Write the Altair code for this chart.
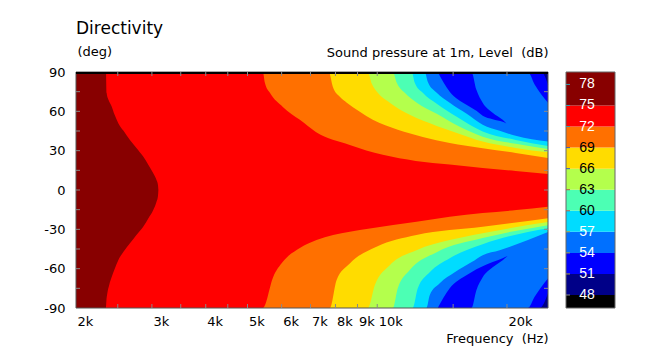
import altair as alt
import pandas as pd

FONT = "DejaVu Sans"
CBAR_FONT = "Liberation Sans"
TEXT = "#000000"

# ---------------- axes ----------------
F_MIN, F_MAX = 2000, 24900
X_LABEL_VALUES = [2000, 3000, 4000, 5000, 6000, 7000, 8000, 9000, 10000, 20000]
X_TICK_VALUES = [2500, 3000, 3500, 4000, 4500, 5000, 6000, 7000, 8000, 9000, 10000, 15000, 20000]
Y_LABEL_VALUES = [-90, -60, -30, 0, 30, 60, 90]
Y_TICK_VALUES = [-75, -60, -45, -30, -15, 0, 15, 30, 45, 60, 75]

# ---------------- colour scale (dB) ----------------
LEVELS = [48, 51, 54, 57, 60, 63, 66, 69, 72, 75]
BAND_COLORS = ["#000000", "#000088", "#0000ff", "#0070ff", "#00dcff", "#4cffb4",
               "#b4ff4c", "#ffdc00", "#ff7000", "#ff0000", "#880000"]
CBAR_MIN, CBAR_MAX = 46.15, 79.77
CBAR_LABELS = [48, 51, 54, 57, 60, 63, 66, 69, 72, 75, 78]
CBAR_LABEL_COLORS = ["white", "white", "white", "white", "black", "black",
                     "black", "black", "white", "white", "white"]
CBAR_TICK_COLORS = ["#888888", "#a89a3a", "#a89a3a", "#a89a3a", "#b05a4a", "#b05a4a",
                    "#3a5ab8", "#3a5ab8", "#3a9aaa", "#3a9aaa", "#3a9aaa"]

# ---------------- contour boundaries (frequency Hz, angle deg) ----------------
L51_UP_F = [2000, 24028, 24900]
L51_UP_A = [90, 90, 80.5]
L51_LO_F = [2000, 23812, 24900]
L51_LO_A = [-90, -90, -78.7]

L54_UP_F = [2000, 22370, 23184, 24028, 24900]
L54_UP_A = [90, 90, 80.5, 72.8, 66.5]
L54_LO_F = [2000, 22370, 23184, 24028, 24900]
L54_LO_A = [-90, -90, -81.5, -73.9, -67.5]

TONGUE_UP_F = [13815, 14728, 16103, 16537, 16984, 17565, 18527, 19544, 19936]
TONGUE_UP_OUT = [90, 90, 90, 90, 76.4, 66.5, 58.9, 53.5, 50.8]
TONGUE_UP_IN = [90, 74.9, 65, 62.7, 60.4, 56.6, 53.9, 52, 50.8]
TONGUE_LO_F = [13815, 14728, 16103, 16537, 16984, 17565, 18527, 19544, 20075]
TONGUE_LO_OUT = [-90, -90, -90, -90, -76.4, -66.5, -58.9, -53.5, -50.4]
TONGUE_LO_IN = [-90, -74.9, -65, -62.7, -60.4, -58.1, -55, -52, -50.4]

L57_UP_F = [2000, 12890, 13099, 13741, 14728, 16127, 17565, 19233, 20950, 24900]
L57_UP_A = [90, 90, 82.5, 74.1, 66.6, 58.1, 49.7, 45.1, 41.3, 36.9]
L57_LO_F = [2000, 13008, 13237, 13964, 15127, 16564, 17565, 19233, 24900]
L57_LO_A = [-90, -90, -80.3, -71.1, -62.7, -55, -49.7, -45.9, -32.1]

L60_UP_F = [2000, 12026, 12220, 12753, 13741, 15288, 17565, 20950, 24900]
L60_UP_A = [90, 90, 81.8, 74.1, 65.7, 55.8, 44.6, 38.2, 33.6]
L60_LO_F = [2000, 12090, 12418, 13237, 14728, 17565, 24900]
L60_LO_A = [-90, -90, -74.9, -62.7, -52, -41.3, -29.1]

L63_UP_F = [2000, 10866, 11100, 11584, 12351, 13741, 15535, 17565, 20950, 24900]
L63_UP_A = [90, 90, 81.8, 74.1, 66.6, 58.1, 48.2, 40.7, 35.2, 31.3]
L63_LO_F = [2000, 10866, 11160, 11898, 13741, 17565, 24900]
L63_LO_A = [-90, -90, -74.9, -61.1, -47.4, -36.7, -26.8]

L66_UP_F = [2000, 9509, 9714, 10030, 10693, 11898, 13741, 15535, 17565, 20950, 24900]
L66_UP_A = [90, 90, 81, 74.1, 66.6, 57.3, 48.9, 42.8, 36.9, 32.1, 28.7]
L66_LO_F = [2000, 9509, 9870, 10693, 12331, 14728, 17565, 24900]
L66_LO_A = [-90, -90, -72.6, -57.3, -45.9, -38.2, -32.9, -24.5]

L69_UP_F = [2000, 7720, 7887, 8187, 8499, 9111, 9766, 11160, 12753, 14728, 17565, 20950, 24900]
L69_UP_A = [90, 90, 78.7, 71.1, 66.6, 59.6, 53.5, 45.9, 40.5, 35.9, 31.9, 28.3, 24.5]
L69_LO_F = [2000, 7761, 8045, 8636, 9960, 12331, 17565, 24900]
L69_LO_A = [-90, -90, -68.8, -56, -43.3, -34.4, -28.1, -21.6]

L72_UP_F = [2000, 5429, 5487, 5635, 6039, 6614, 7203, 8636, 10301, 12285, 14728, 17565, 20950, 24900]
L72_UP_A = [90, 90, 81.8, 74.1, 63.4, 53.5, 44.3, 34.4, 26.8, 22.2, 19.5, 16.8, 14.5, 12.2]
L72_LO_F = [2000, 5429, 5736, 6039, 6614, 7230, 8636, 9611, 12331, 14728, 17565, 21028, 24900]
L72_LO_A = [-90, -90, -66.3, -54.8, -44.3, -38.2, -31.9, -29.3, -24.2, -20.4, -17.6, -15.3, -12.8]

L75_UP_F = [2000, 2347, 2356, 2379, 2420, 2457, 2507, 2578, 2668, 2762, 2864, 2945, 3022, 3075, 3099, 3106]
L75_UP_A = [90, 90, 74, 68.8, 63.7, 57.5, 51, 45.1, 38.2, 32.1, 25.5, 19.1, 12.8, 7.6, 3.8, 0]
L75_LO_F = [2000, 2347, 2352, 2364, 2390, 2420, 2460, 2507, 2580, 2668, 2762, 2864, 2945, 3022, 3075, 3099, 3106]
L75_LO_A = [-90, -90, -85, -79, -72, -66.3, -60, -53.5, -47, -40.7, -34.3, -28, -21.5, -15.3, -9, -4.5, 0]

# painting order: lower levels first, islands after their enclosing level
REGIONS = [
    ("L51_UP", 51, L51_UP_F, L51_UP_A, 0),
    ("L51_LO", 51, L51_LO_F, L51_LO_A, 0),
    ("L54_UP", 54, L54_UP_F, L54_UP_A, 0),
    ("L54_LO", 54, L54_LO_F, L54_LO_A, 0),
    ("TONGUE_UP", 51, TONGUE_UP_F, TONGUE_UP_OUT, TONGUE_UP_IN),
    ("TONGUE_LO", 51, TONGUE_LO_F, TONGUE_LO_OUT, TONGUE_LO_IN),
    ("L57_UP", 57, L57_UP_F, L57_UP_A, 0),
    ("L57_LO", 57, L57_LO_F, L57_LO_A, 0),
    ("L60_UP", 60, L60_UP_F, L60_UP_A, 0),
    ("L60_LO", 60, L60_LO_F, L60_LO_A, 0),
    ("L63_UP", 63, L63_UP_F, L63_UP_A, 0),
    ("L63_LO", 63, L63_LO_F, L63_LO_A, 0),
    ("L66_UP", 66, L66_UP_F, L66_UP_A, 0),
    ("L66_LO", 66, L66_LO_F, L66_LO_A, 0),
    ("L69_UP", 69, L69_UP_F, L69_UP_A, 0),
    ("L69_LO", 69, L69_LO_F, L69_LO_A, 0),
    ("L72_UP", 72, L72_UP_F, L72_UP_A, 0),
    ("L72_LO", 72, L72_LO_F, L72_LO_A, 0),
    ("L75_UP", 75, L75_UP_F, L75_UP_A, 0),
    ("L75_LO", 75, L75_LO_F, L75_LO_A, 0),
]


def band_color(level):
    return BAND_COLORS[LEVELS.index(level) + 1]


rows = []
for name, level, fs, angs, base in REGIONS:
    for i, (f, a) in enumerate(zip(fs, angs)):
        rows.append({"region": name, "f": f, "a": a,
                     "a0": base[i] if isinstance(base, list) else base})
regions_df = pd.DataFrame(rows)

frame_df = pd.DataFrame({"f0": [F_MIN], "f1": [F_MAX], "a0": [-90], "a1": [90]})
xt_df = pd.DataFrame({"f0": X_TICK_VALUES})
yt_df = pd.DataFrame({"a0": Y_TICK_VALUES})

band_lo = [CBAR_MIN] + LEVELS
band_hi = LEVELS + [CBAR_MAX]
cbar_df = pd.DataFrame({"lo": band_lo, "hi": band_hi, "c": BAND_COLORS})
clab_df = pd.DataFrame({"lo": CBAR_LABELS, "tc": CBAR_LABEL_COLORS, "kc": CBAR_TICK_COLORS})
cframe_df = pd.DataFrame({"lo": [CBAR_MIN], "hi": [CBAR_MAX]})

W, H = 472, 236

xscale = alt.Scale(type="log", domain=[F_MIN, F_MAX], nice=False)
yscale = alt.Scale(domain=[-90, 90], nice=False, zero=False)
cscale = alt.Scale(domain=[CBAR_MIN, CBAR_MAX], nice=False, zero=False)

XTITLE = "Frequency\u00a0 (Hz)"
YTITLE = "(deg)"
CTITLE = "Sound pressure at 1m, Level\u00a0 (dB)"

x_axis = alt.Axis(values=X_LABEL_VALUES, labelExpr="datum.value / 1000 + 'k'",
                  ticks=False, tickSize=0, domain=False, grid=False,
                  labelAlign="left", labelBaseline="alphabetic", labelPadding=17,
                  labelOffset=1, labelFlush=False, labelOverlap=False,
                  labelFontSize=13, labelFont=FONT, labelColor=TEXT,
                  title=XTITLE, titleX=W, titleY=34,
                  titleAlign="right", titleBaseline="alphabetic",
                  titleFontSize=13, titleFontWeight="normal", titleFont=FONT,
                  titleColor=TEXT)
y_axis = alt.Axis(values=Y_LABEL_VALUES, ticks=False, tickSize=0, domain=False,
                  grid=False, labelPadding=11, labelFontSize=13, labelFont=FONT,
                  labelColor=TEXT, labelBaseline="middle", labelFlush=False,
                  labelOverlap=False, labelExpr="'' + datum.value",
                  title=YTITLE, titleAngle=0, titleX=1, titleY=-17,
                  titleAlign="left", titleBaseline="alphabetic", titleFontSize=13,
                  titleFontWeight="normal", titleFont=FONT, titleColor=TEXT)
c_axis = alt.Axis(orient="right", labels=False, ticks=False, domain=False, grid=False,
                  title=CTITLE, titleAngle=0,
                  titleX=0, titleY=-16, titleAlign="right", titleBaseline="alphabetic",
                  titleFontSize=13, titleFontWeight="normal", titleFont=FONT,
                  titleColor=TEXT)

X_F0 = alt.X("f0:Q", scale=xscale, axis=x_axis, title=XTITLE)
Y_A0 = alt.Y("a0:Q", scale=yscale, axis=y_axis, title=YTITLE)

base = alt.Chart(frame_df).mark_rect(color=BAND_COLORS[1]).encode(
    x=X_F0, x2="f1:Q", y=Y_A0, y2="a1:Q",
)

area_layers = []
for name, level, _, _, _ in REGIONS:
    area_layers.append(
        alt.Chart(regions_df).transform_filter(alt.datum.region == name)
        .mark_area(color=band_color(level), interpolate="monotone")
        .encode(
            x=alt.X("f:Q", scale=xscale, axis=x_axis, title=XTITLE),
            y=alt.Y("a:Q", scale=yscale, axis=y_axis, stack=None, title=YTITLE),
            y2="a0:Q",
        )
    )

frame = alt.Chart(frame_df).mark_rect(filled=False, stroke="#555555", strokeWidth=1).encode(
    x=X_F0, x2="f1:Q", y=Y_A0, y2="a1:Q",
)
top_rule = alt.Chart(frame_df).mark_rule(color="#000000", strokeWidth=2, yOffset=1).encode(
    x=X_F0, x2="f1:Q",
    y=alt.Y("a1:Q", scale=yscale, axis=y_axis, title=YTITLE),
)
TICK_COLOR = "#888888"
xt_bottom = alt.Chart(xt_df).mark_rule(color=TICK_COLOR).encode(
    x=X_F0, y=alt.value(H), y2=alt.value(H - 4))
xt_top = alt.Chart(xt_df).mark_rule(color=TICK_COLOR).encode(
    x=X_F0, y=alt.value(0), y2=alt.value(4))
yt_left = alt.Chart(yt_df).mark_rule(color=TICK_COLOR).encode(
    y=Y_A0, x=alt.value(0), x2=alt.value(4))
yt_right = alt.Chart(yt_df).mark_rule(color=TICK_COLOR).encode(
    y=Y_A0, x=alt.value(W), x2=alt.value(W - 4))

main = alt.layer(base, *area_layers, frame, top_rule, xt_bottom, xt_top, yt_left, yt_right)

CB_X0, CB_X1 = 490, 539
Y_LO = alt.Y("lo:Q", scale=cscale, axis=c_axis, title=CTITLE)
cbar_rects = alt.Chart(cbar_df).mark_rect().encode(
    x=alt.value(CB_X0), x2=alt.value(CB_X1),
    y=Y_LO, y2="hi:Q",
    color=alt.Color("c:N", scale=None),
)
cbar_frame = alt.Chart(cframe_df).mark_rect(filled=False, stroke="#666666", strokeWidth=1).encode(
    x=alt.value(CB_X0), x2=alt.value(CB_X1),
    y=Y_LO, y2="hi:Q",
)
cbar_ticks = alt.Chart(clab_df).mark_rule(strokeWidth=1).encode(
    x=alt.value(CB_X0), x2=alt.value(CB_X0 + 4),
    y=Y_LO,
    color=alt.Color("kc:N", scale=None),
)
cbar_text = alt.Chart(clab_df).mark_text(font=CBAR_FONT, fontSize=14, align="center",
                                         baseline="middle").encode(
    x=alt.value(511),
    y=Y_LO,
    text=alt.Text("lo:Q", format="d"),
    color=alt.Color("tc:N", scale=None),
)
cbar = alt.layer(cbar_rects, cbar_frame, cbar_ticks, cbar_text)

chart = (
    alt.layer(main, cbar)
    .resolve_scale(y="independent")
    .properties(
        width=W, height=H,
        autosize=alt.AutoSizeParams(type="none"),
        padding={"left": 76, "top": 72, "right": 118, "bottom": 43},
        title=alt.TitleParams("Directivity", anchor="start", frame="group",
                              fontSize=17, fontWeight="normal", font=FONT,
                              color=TEXT, offset=7),
        background="white",
    )
    .configure_view(stroke=None)
)

chart.save("out.html", embed_options={"renderer": "svg", "actions": False})
